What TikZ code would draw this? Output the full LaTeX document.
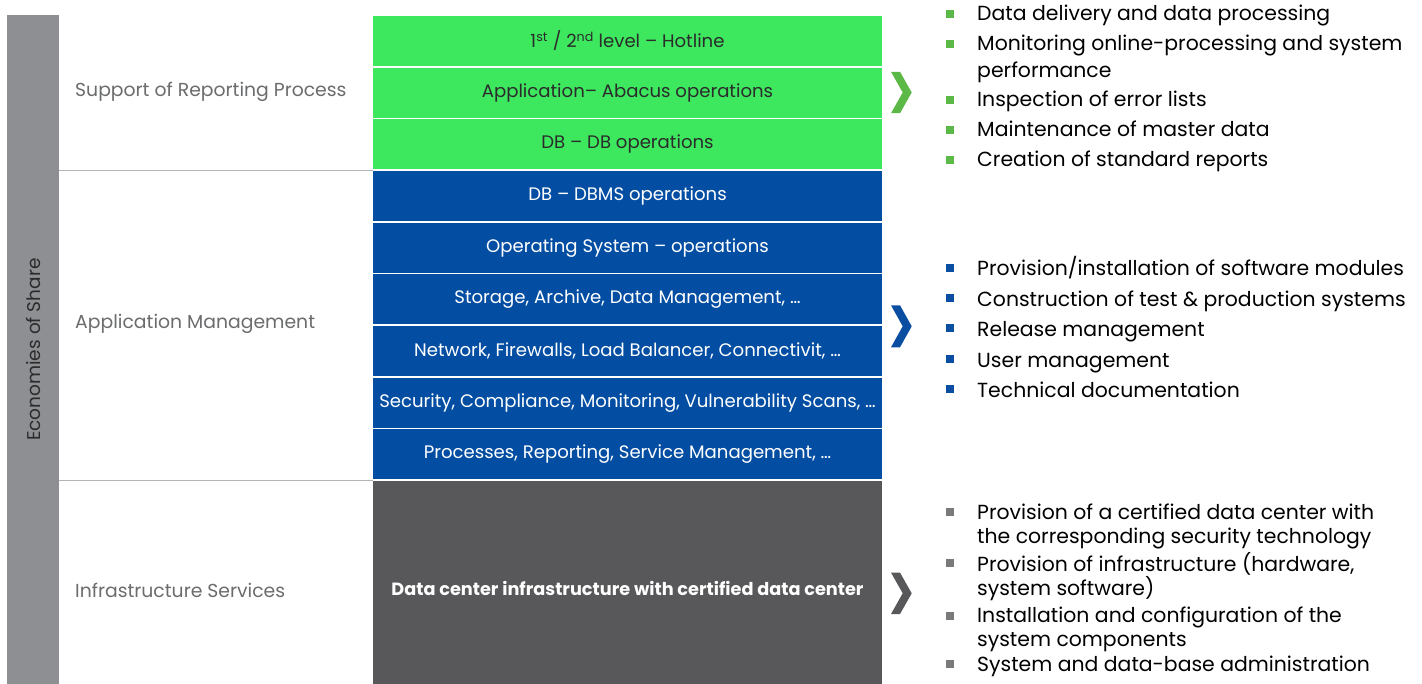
\documentclass[tikz,border=0pt]{standalone}
\usepackage{fontspec}
\setmainfont{Poppins}
\definecolor{boxgreen}{HTML}{3DE85F}
\definecolor{boxblue}{HTML}{034EA2}
\definecolor{boxdark}{HTML}{58585A}
\definecolor{bargray}{HTML}{8E8F93}
\definecolor{labgray}{HTML}{6B6C6E}
\definecolor{sepgray}{HTML}{B4B4B4}
\definecolor{accgreen}{HTML}{5CB947}
\definecolor{accblue}{HTML}{0A4EA2}
\definecolor{accgray}{HTML}{7A7A7A}
\definecolor{chevgray}{HTML}{58585A}
\definecolor{txtdark}{HTML}{2B2B2B}
\begin{document}
\begin{tikzpicture}[x=1pt,y=-1pt,
  layerbox/.style={minimum width=509pt,minimum height=50pt,inner sep=0pt,anchor=center,font=\fontsize{18.1}{21}\selectfont},
  gbox/.style={layerbox,fill=boxgreen,text=txtdark},
  bbox/.style={layerbox,fill=boxblue,text=white},
  sidelabel/.style={anchor=west,inner sep=0pt,text=labgray,font=\fontsize{18.8}{22}\selectfont},
  itemtext/.style={anchor=base west,inner sep=0pt,text=black,font=\fontsize{20.4}{24}\selectfont},
  sq/.style={minimum size=8pt,inner sep=0pt,anchor=center},
  sqgreen/.style={sq,fill=accgreen},
  sqblue/.style={sq,fill=accblue},
  sqgray/.style={sq,fill=accgray},
  sepline/.style={draw=sepgray,line width=1.2pt}
]
\useasboundingbox (0,0) rectangle (1422,684);
\fill[white] (0,0) rectangle (1422,684);

% vertical bar
\node[fill=bargray,minimum width=52pt,minimum height=669pt,inner sep=0pt,anchor=north west] (bar) at (7,15) {};
\node[rotate=90,text=txtdark,font=\fontsize{18.5}{22}\selectfont,inner sep=0pt] (eco) at (bar.center) {Economies of Share};

% separators
\coordinate (s1a) at (59,170.3);
\coordinate (s1b) at (373,170.3);
\coordinate (s2a) at (59,480.3);
\coordinate (s2b) at (373,480.3);
\draw[sepline] (s1a) -- (s1b);
\draw[sepline] (s2a) -- (s2b);

% side labels
\node[sidelabel] (l1) at (75,92) {Support of Reporting Process};
\node[sidelabel] (l2) at (75,324) {Application Management};
\node[sidelabel] (l3) at (75,590) {Infrastructure Services};

% green boxes
\node[gbox] (g1) at (627.5,41) {1\textsuperscript{st} / 2\textsuperscript{nd} level – Hotline};
\node[gbox] (g2) at (627.5,92.67) {Application– Abacus operations};
\node[gbox] (g3) at (627.5,144.33) {DB – DB operations};
% blue boxes
\node[bbox] (b1) at (627.5,196) {DB – DBMS operations};
\node[bbox] (b2) at (627.5,247.67) {Operating System – operations};
\node[bbox] (b3) at (627.5,299.33) {Storage, Archive, Data Management, …};
\node[bbox] (b4) at (627.5,351) {Network, Firewalls, Load Balancer, Connectivit, …};
\node[bbox] (b5) at (627.5,402.67) {Security, Compliance, Monitoring, Vulnerability Scans, …};
\node[bbox] (b6) at (627.5,454.33) {Processes, Reporting, Service Management, …};
% dark box
\node[layerbox,fill=boxdark,text=white,minimum height=214pt,font=\fontsize{17.7}{21}\selectfont\bfseries] (d1) at (627.5,588) {Data center infrastructure with certified data center};

% chevrons
\fill[accgreen,shift={(891,92.5)}] (0,-20.7) -- (9,-20.7) -- (20.7,0) -- (9,20.7) -- (0,20.7) -- (11.7,0) -- cycle;
\fill[accblue,shift={(891,326.3)}] (0,-21) -- (9,-21) -- (20.7,0) -- (9,21) -- (0,21) -- (11.7,0) -- cycle;
\fill[chevgray,shift={(891,593.3)}] (0,-20.7) -- (9,-20.7) -- (20.7,0) -- (9,20.7) -- (0,20.7) -- (11.7,0) -- cycle;

% green list
\node[sqgreen] (gq1) at (949.5,13.7) {};
\node[itemtext] (gt1) at (977,20.7) {Data delivery and data processing};
\node[sqgreen] (gq2) at (949.5,43.7) {};
\node[itemtext] (gt2) at (977,50.7) {Monitoring online-processing and system};
\node[itemtext] (gt2b) at (977,77.3) {performance};
\node[sqgreen] (gq3) at (949.5,100) {};
\node[itemtext] (gt3) at (977,107) {Inspection of error lists};
\node[sqgreen] (gq4) at (949.5,130) {};
\node[itemtext] (gt4) at (977,137) {Maintenance of master data};
\node[sqgreen] (gq5) at (949.5,160) {};
\node[itemtext] (gt5) at (977,167) {Creation of standard reports};

% blue list
\node[sqblue] (bq1) at (949.5,267.7) {};
\node[itemtext] (bt1) at (977,276) {Provision/installation of software modules};
\node[sqblue] (bq2) at (949.5,298) {};
\node[itemtext] (bt2) at (977,306.5) {Construction of test \& production systems};
\node[sqblue] (bq3) at (949.5,328.5) {};
\node[itemtext] (bt3) at (977,337) {Release management};
\node[sqblue] (bq4) at (949.5,358.8) {};
\node[itemtext] (bt4) at (977,367.3) {User management};
\node[sqblue] (bq5) at (949.5,389) {};
\node[itemtext] (bt5) at (977,397.5) {Technical documentation};

% gray list
\node[sqgray] (dq1) at (949.5,512) {};
\node[itemtext] (dt1) at (977,519.5) {Provision of a certified data center with};
\node[itemtext] (dt1b) at (977,543) {the corresponding security technology};
\node[sqgray] (dq2) at (949.5,562.5) {};
\node[itemtext] (dt2) at (977,571) {Provision of infrastructure (hardware,};
\node[itemtext] (dt2b) at (977,595.5) {system software)};
\node[sqgray] (dq3) at (949.5,615.5) {};
\node[itemtext] (dt3) at (977,622) {Installation and configuration of the};
\node[itemtext] (dt3b) at (977,646.5) {system components};
\node[sqgray] (dq4) at (949.5,664) {};
\node[itemtext] (dt4) at (977,671) {System and data-base administration};
\end{tikzpicture}
\end{document}
